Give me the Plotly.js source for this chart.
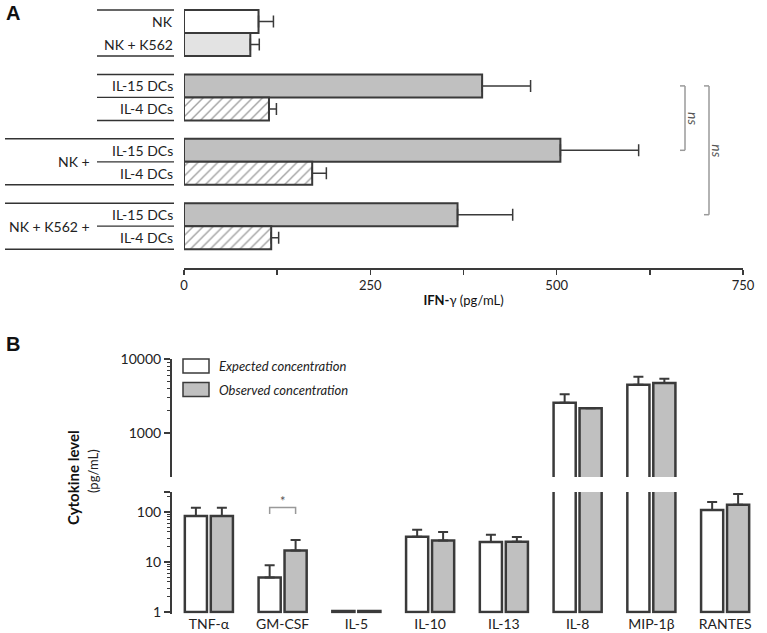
<!DOCTYPE html>
<html><head><meta charset="utf-8">
<script src="https://cdn.plot.ly/plotly-3.0.1.min.js"></script>
<style>html,body{margin:0;padding:0;background:#fff}#chart{width:767px;height:633px}</style>
</head><body><div id="chart"></div>
<script>
// ---------- Panel A data ----------
const groupPrefixA = ['', '', 'NK +', 'NK + K562 +'];
const groupRowsA = [['NK', 'NK + K562'], ['IL-15 DCs', 'IL-4 DCs'], ['IL-15 DCs', 'IL-4 DCs'], ['IL-15 DCs', 'IL-4 DCs']];
const ifnMean = [100, 89, 400, 114, 505, 172, 367, 117];
const ifnErr  = [20, 12, 65, 10, 105, 19, 74, 10];
const ifnTicks = [0, 250, 500, 750];
const ifnTitle = '<b>IFN-</b>γ (pg/mL)';
const nsLabel = 'ns';

// ---------- Panel B data ----------
const cytokines = ['TNF-α', 'GM-CSF', 'IL-5', 'IL-10', 'IL-13', 'IL-8', 'MIP-1β', 'RANTES'];
const expectedName = 'Expected concentration';
const observedName = 'Observed concentration';
const expectedVal = [83, 4.9, 1.05, 32, 25, 2570, 4480, 110];
const expectedErr = [39, 3.7, 0, 12, 10, 780, 1270, 48];
const observedVal = [83, 16.9, 1.05, 27, 25.5, 2160, 4720, 140];
const observedErr = [39, 10.6, 0, 13, 6, 0, 680, 89];
const cytoTicksLow = [1, 10, 100];
const cytoTicksHigh = [1000, 10000];
const cytoTitle = 'Cytokine level';
const cytoUnit = '(pg/mL)';

// ---------- layout helpers ----------
const W = 767, H = 633;
const px = x => x / W;
const py = y => 1 - y / H;
const FONT = 'Lato, "Open Sans", sans-serif';
const DARK = '#3a3a3a';

// row positions for panel A (bars touch within a group, gap between groups)
const posA = [], labelsA = [], groupCenters = [], groupStart = [];
let p = 0;
groupRowsA.forEach(rows => {
  const start = p;
  groupStart.push(start);
  rows.forEach(r => { posA.push(p); labelsA.push(r); p += 1; });
  groupCenters.push((start + p - 1) / 2);
  p += 0.8;
});
const fillOf = l => l === 'NK + K562' ? '#e3e3e3' : (l === 'IL-15 DCs' ? '#c0c0c0' : '#ffffff');
const isHatched = l => l === 'IL-4 DCs';
const idxSolid = labelsA.map((l, i) => i).filter(i => !isHatched(labelsA[i]));
const idxHatch = labelsA.map((l, i) => i).filter(i => isHatched(labelsA[i]));

function barA(idx, hatched) {
  const t = {
    type: 'bar', orientation: 'h', x: idx.map(i => ifnMean[i]), y: idx.map(i => posA[i]),
    xaxis: 'x', yaxis: 'y', width: 1,
    marker: { color: idx.map(i => fillOf(labelsA[i])), line: { color: DARK, width: 2 } },
    error_x: { type: 'data', symmetric: false, array: idx.map(i => ifnErr[i]), arrayminus: idx.map(() => 0),
      color: DARK, thickness: 1.5, width: 6 },
    showlegend: false, hoverinfo: 'none'
  };
  if (hatched) t.marker.pattern = { shape: '/', fgcolor: '#444444', bgcolor: '#ffffff', size: 7, solidity: 0.2, fillmode: 'overlay' };
  return t;
}

function barB(vals, errs, name, color, offset, ya) {
  return {
    type: 'bar', x: cytokines.map((c, i) => i), y: vals.map(v => v - 1), base: 1, name: name,
    xaxis: 'x2', yaxis: ya, width: 0.3, offset: offset,
    marker: { color: color, line: { color: DARK, width: 2.5 } },
    error_y: { type: 'data', symmetric: false, array: errs, arrayminus: errs.map(() => 0),
      color: DARK, thickness: 2, width: 5 },
    showlegend: false, hoverinfo: 'none'
  };
}
const traces = [
  barA(idxSolid, false), barA(idxHatch, true),
  barB(expectedVal, expectedErr, expectedName, '#ffffff', -0.326, 'y2'),
  barB(observedVal, observedErr, observedName, '#c0c0c0', 0.026, 'y2'),
  barB(expectedVal, expectedErr, expectedName, '#ffffff', -0.326, 'y3'),
  barB(observedVal, observedErr, observedName, '#c0c0c0', 0.026, 'y3')
];

// ---------- shapes & annotations ----------
const shapes = [], annotations = [];
const ln = (x0, y0, x1, y1, yref, color, w) => shapes.push({ type: 'line', xref: 'paper', yref: yref,
  x0: x0, x1: x1, y0: y0, y1: y1, line: { color: color, width: w } });
const ann = o => annotations.push(Object.assign({ showarrow: false, xanchor: 'center', yanchor: 'middle' }, o));

// label table, panel A
groupRowsA.forEach((rows, gi) => {
  const first = groupStart[gi];
  const last = first + rows.length - 1;
  const left = groupPrefixA[gi] ? px(5) : px(97);
  ln(left, first - 0.5, px(174), first - 0.5, 'y', '#333', 1.5);
  ln(left, last + 0.5, px(174), last + 0.5, 'y', '#333', 1.5);
  if (gi > 0) ln(px(97), first + 0.5, px(174), first + 0.5, 'y', '#333', 1.2);
  if (groupPrefixA[gi]) ann({ xref: 'paper', yref: 'y', x: px(92), y: groupCenters[gi],
    xanchor: 'right', text: groupPrefixA[gi], font: { family: FONT, size: 14, color: '#222' } });
});
labelsA.forEach((l, i) => ann({ xref: 'paper', yref: 'y', x: px(175), y: posA[i],
  xanchor: 'right', text: l, font: { family: FONT, size: 14, color: '#222' } }));

// ns brackets: IL-15 DCs alone vs NK + IL-15 DCs and NK + K562 + IL-15 DCs
const nsPairs = [[posA[2], posA[4], 685], [posA[2], posA[6], 709]];
nsPairs.forEach(([a, b, xp]) => {
  ln(px(xp), a, px(xp), b, 'y', '#9a9a9a', 1.5);
  ln(px(xp - 5), a, px(xp), a, 'y', '#9a9a9a', 1.5);
  ln(px(xp - 5), b, px(xp), b, 'y', '#9a9a9a', 1.5);
  ann({ xref: 'paper', yref: 'y', x: px(xp + 9), y: (a + b) / 2, text: '<i>' + nsLabel + '</i>',
    textangle: 90, font: { family: FONT, size: 14, color: '#555' } });
});

// significance bracket GM-CSF
shapes.push({ type: 'path', xref: 'x2', yref: 'paper',
  path: `M ${1 - 0.176},${py(514)} L ${1 - 0.176},${py(507.5)} L ${1 + 0.176},${py(507.5)} L ${1 + 0.176},${py(514)}`,
  line: { color: '#999', width: 1.5 } });
ann({ xref: 'x2', yref: 'paper', x: 1, y: py(501), text: '*', font: { family: FONT, size: 13, color: '#555' } });

// legend
[[expectedName, '#ffffff', 366], [observedName, '#c0c0c0', 389.5]].forEach(([name, col, yc]) => {
  shapes.push({ type: 'rect', xref: 'paper', yref: 'paper', x0: px(183), x1: px(209), y0: py(yc - 7), y1: py(yc + 7),
    fillcolor: col, line: { color: DARK, width: 1.5 } });
  ann({ xref: 'paper', yref: 'paper', x: px(217), y: py(yc), xanchor: 'left',
    text: '<i>' + name + '</i>', font: { family: FONT, size: 13, color: '#222' } });
});

// panel letters and y-title for panel B
ann({ xref: 'paper', yref: 'paper', x: px(4), y: py(13), xanchor: 'left', text: '<b>A</b>',
  font: { family: 'Liberation Sans, Arial', size: 20, color: '#111' } });
ann({ xref: 'paper', yref: 'paper', x: px(4), y: py(344), xanchor: 'left', text: '<b>B</b>',
  font: { family: 'Liberation Sans, Arial', size: 20, color: '#111' } });
ann({ xref: 'paper', yref: 'paper', x: px(73), y: py(478), textangle: -90, text: '<b>' + cytoTitle + '</b>',
  font: { family: FONT, size: 15, color: '#111' } });
ann({ xref: 'paper', yref: 'paper', x: px(93), y: py(471), textangle: -90, text: cytoUnit,
  font: { family: FONT, size: 13, color: '#222' } });

const minorLow = [];
[1, 10].forEach(d => { for (let k = 2; k <= 9; k++) minorLow.push(k * d); });
minorLow.push(200);
const minorHigh = [];
for (let k = 2; k <= 9; k++) minorHigh.push(k * 1000);

const axLine = { showline: true, linecolor: DARK, linewidth: 2, ticks: 'outside', tickcolor: DARK, tickwidth: 1.5 };

const layout = {
  width: W, height: H, margin: { l: 0, r: 0, t: 0, b: 0 },
  paper_bgcolor: '#fff', plot_bgcolor: 'rgba(0,0,0,0)',
  font: { family: FONT, color: '#222' },
  showlegend: false, barmode: 'overlay',
  xaxis: Object.assign({}, axLine, { domain: [px(184), px(743)], range: [0, 750], anchor: 'y',
    tickvals: ifnTicks, ticklen: 5, linewidth: 1.5, showgrid: false, zeroline: false,
    minor: { dtick: 125, ticks: 'outside', ticklen: 5, tickcolor: DARK, tickwidth: 1.5 },
    tickfont: { family: FONT, size: 13, color: '#222' },
    title: { text: ifnTitle, font: { family: FONT, size: 13, color: '#111' }, standoff: 4 } }),
  yaxis: { domain: [py(268), py(8)], range: [(268 - 21.5) / 23, (8 - 21.5) / 23],
    showline: false, showticklabels: false, ticks: '', showgrid: false, zeroline: false, anchor: 'x' },
  xaxis2: { domain: [px(172), px(762)], range: [-0.5, 7.5], anchor: 'y2', showline: false, ticks: '',
    tickvals: cytokines.map((c, i) => i), ticktext: cytokines, showgrid: false, zeroline: false,
    tickfont: { family: FONT, size: 14, color: '#222' } },
  yaxis2: Object.assign({}, axLine, { domain: [py(613.5), py(492)], type: 'log', range: [-0.03, 2.4], anchor: 'x2',
    tickvals: cytoTicksLow.concat([251]), ticktext: cytoTicksLow.map(String).concat(['']), ticklen: 6,
    minor: { tickvals: minorLow, ticks: 'outside', ticklen: 3, tickcolor: DARK, tickwidth: 1 },
    showgrid: false, zeroline: false, tickfont: { family: FONT, size: 14, color: '#222' } }),
  yaxis3: Object.assign({}, axLine, { domain: [py(477), py(359)], type: 'log', range: [2.405, 4.0], anchor: 'x2',
    tickvals: [254].concat(cytoTicksHigh), ticktext: [''].concat(cytoTicksHigh.map(String)), ticklen: 6,
    minor: { tickvals: minorHigh, ticks: 'outside', ticklen: 3, tickcolor: DARK, tickwidth: 1 },
    showgrid: false, zeroline: false, tickfont: { family: FONT, size: 14, color: '#222' } }),
  shapes: shapes, annotations: annotations
};
Plotly.newPlot('chart', traces, layout, { staticPlot: true, displayModeBar: false });
</script>
</body></html>
